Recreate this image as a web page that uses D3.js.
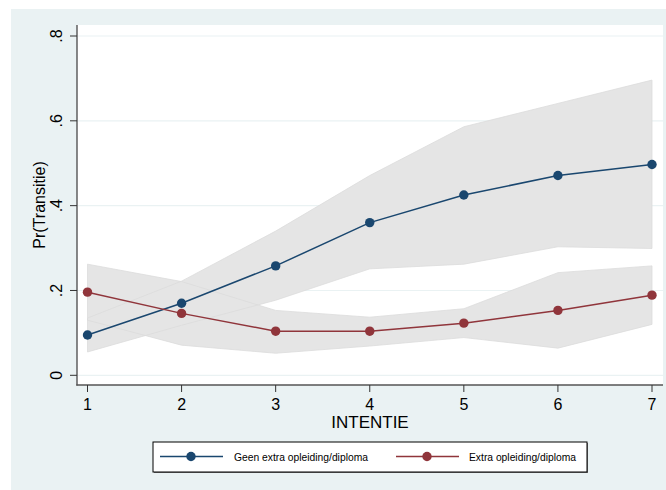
<!DOCTYPE html>
<html>
<head>
<meta charset="utf-8">
<script src="https://cdn.jsdelivr.net/npm/d3@7"></script>
<style>
  html, body { margin: 0; padding: 0; background: #ffffff; }
  text { font-family: "Liberation Sans", Arial, Helvetica, sans-serif; }
</style>
</head>
<body>
<svg id="chart" width="666" height="490"></svg>
<script>
// ---- data ----
const intentie = [1, 2, 3, 4, 5, 6, 7];
const geenEst  = [0.095, 0.170, 0.258, 0.360, 0.425, 0.471, 0.497];
const geenLo   = [0.055, 0.118, 0.177, 0.251, 0.262, 0.303, 0.299];
const geenHi   = [0.135, 0.222, 0.340, 0.471, 0.586, 0.641, 0.696];
const extraEst = [0.196, 0.146, 0.104, 0.104, 0.123, 0.153, 0.189];
const extraLo  = [0.130, 0.071, 0.052, 0.069, 0.089, 0.064, 0.120];
const extraHi  = [0.262, 0.221, 0.153, 0.137, 0.157, 0.242, 0.258];
const yTicks = [0, 0.2, 0.4, 0.6, 0.8];
const yTickLabels = ["0", ".2", ".4", ".6", ".8"];
const seriesNames = ["Geen extra opleiding/diploma", "Extra opleiding/diploma"];
const seriesColors = ["#1a476f", "#90353b"];

const svg = d3.select("#chart");

// outer background
svg.append("rect").attr("x", 11).attr("y", 9).attr("width", 655).attr("height", 481).attr("fill", "#eaf2f3");
// plot region
svg.append("rect").attr("x", 77).attr("y", 25).attr("width", 586).attr("height", 360).attr("fill", "#ffffff");

const x = d3.scaleLinear().domain([1, 7]).range([87.5, 652]);
const y = d3.scaleLinear().domain([0, 0.8]).range([375.3, 36]);

// gridlines
svg.append("g").selectAll("line").data(yTicks).join("line")
  .attr("x1", 77).attr("x2", 663)
  .attr("y1", d => y(d)).attr("y2", d => y(d))
  .attr("stroke", "#eaf2f3").attr("stroke-width", 1.2);

// CI areas
const area = (lo, hi) => d3.area()
  .x((d, i) => x(intentie[i]))
  .y0((d, i) => y(lo[i]))
  .y1((d, i) => y(hi[i]))(intentie);

const bands = [[geenLo, geenHi], [extraLo, extraHi]];
bands.forEach(([lo, hi]) => {
  svg.append("path").attr("d", area(lo, hi))
    .attr("fill", "#e5e5e5").attr("stroke", "none");
});
bands.forEach(([lo, hi]) => {
  svg.append("path").attr("d", area(lo, hi))
    .attr("fill", "none").attr("stroke", "#dcdcdc").attr("stroke-width", 0.8);
});

// lines + markers
const line = d3.line().x((d, i) => x(intentie[i])).y(d => y(d));
[geenEst, extraEst].forEach((vals, k) => {
  svg.append("path").attr("d", line(vals))
    .attr("fill", "none").attr("stroke", seriesColors[k]).attr("stroke-width", 1.5);
  svg.append("g").selectAll("circle").data(vals).join("circle")
    .attr("cx", (d, i) => x(intentie[i])).attr("cy", d => y(d))
    .attr("r", 4.7).attr("fill", seriesColors[k]);
});

// axes lines
svg.append("line").attr("x1", 77).attr("x2", 77).attr("y1", 25).attr("y2", 385.5)
  .attr("stroke", "#555555").attr("stroke-width", 1.4);
svg.append("line").attr("x1", 76.3).attr("x2", 663).attr("y1", 385).attr("y2", 385)
  .attr("stroke", "#555555").attr("stroke-width", 1.4);

// y ticks
const yt = svg.append("g");
yt.selectAll("line").data(yTicks).join("line")
  .attr("x1", 70).attr("x2", 77).attr("y1", d => y(d)).attr("y2", d => y(d))
  .attr("stroke", "#333").attr("stroke-width", 1);
yt.selectAll("text").data(yTicks).join("text")
  .attr("transform", d => `translate(62,${y(d)}) rotate(-90)`)
  .attr("text-anchor", "middle").attr("font-size", 16).attr("fill", "#000")
  .text((d, i) => yTickLabels[i]);

// x ticks
const xt = svg.append("g");
xt.selectAll("line").data(intentie).join("line")
  .attr("x1", d => x(d)).attr("x2", d => x(d)).attr("y1", 385).attr("y2", 392)
  .attr("stroke", "#333").attr("stroke-width", 1);
xt.selectAll("text").data(intentie).join("text")
  .attr("x", d => x(d)).attr("y", 410)
  .attr("text-anchor", "middle").attr("font-size", 16).attr("fill", "#000")
  .text(d => d);

// axis titles
svg.append("text").attr("x", 370).attr("y", 428).attr("text-anchor", "middle")
  .attr("font-size", 17).attr("fill", "#000").text("INTENTIE");
svg.append("text").attr("transform", "translate(45,205) rotate(-90)")
  .attr("text-anchor", "middle").attr("font-size", 16).attr("fill", "#000").text("Pr(Transitie)");

// legend
svg.append("rect").attr("x", 154).attr("y", 443).attr("width", 434).attr("height", 30).attr("fill", "#777");
svg.append("rect").attr("x", 153).attr("y", 442).attr("width", 434).attr("height", 30)
  .attr("fill", "#ffffff").attr("stroke", "#000").attr("stroke-width", 1);
const legX = [[160, 223, 191, 234], [396, 459, 427, 469]];
legX.forEach(([l1, l2, m, tx], k) => {
  svg.append("line").attr("x1", l1).attr("x2", l2).attr("y1", 456.5).attr("y2", 456.5)
    .attr("stroke", seriesColors[k]).attr("stroke-width", 1.5);
  svg.append("circle").attr("cx", m).attr("cy", 456.5).attr("r", 4.7).attr("fill", seriesColors[k]);
  svg.append("text").attr("x", tx).attr("y", 460.5).attr("font-size", 10.3).attr("fill", "#000")
    .text(seriesNames[k]);
});
</script>
</body>
</html>
